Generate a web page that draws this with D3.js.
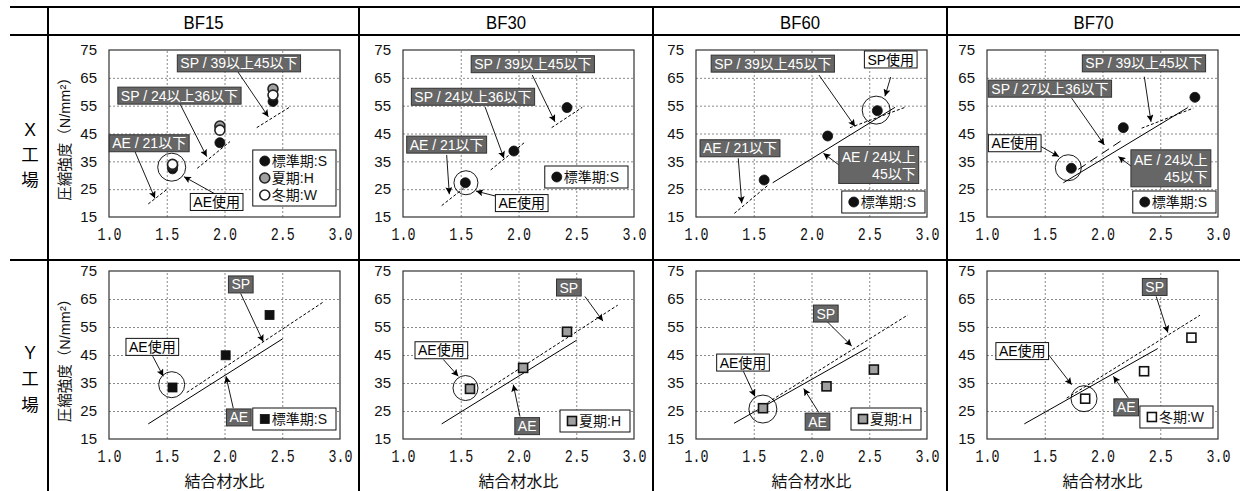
<!DOCTYPE html>
<html><head><meta charset="utf-8">
<script src="https://cdn.jsdelivr.net/npm/d3@7"></script>
<style>body{margin:0;background:#fff}svg{display:block}</style>
</head><body><svg id="c" width="1240" height="491"></svg>
<script>
// ---------- data ----------
const columns = ["BF15", "BF30", "BF60", "BF70"];
const rowLabels = [["X", "工", "場"], ["Y", "工", "場"]];
const xTickValues = [1.0, 1.5, 2.0, 2.5, 3.0];
const xTickLabels = ["1.0", "1.5", "2.0", "2.5", "3.0"];
const yTickValues = [15, 25, 35, 45, 55, 65, 75];
const yTitle = "圧縮強度（N/mm²）";
const xTitle = "結合材水比";
const seriesNames = { S: "標準期:S", H: "夏期:H", W: "冬期:W" };

// X工場 : [結合材水比, 圧縮強度]
const xBF15_S = [[1.55, 32.3], [1.96, 41.7], [2.42, 56.5]];
const xBF15_H = [[1.55, 33.4], [1.96, 47.7], [2.42, 61.0]];
const xBF15_W = [[1.55, 33.9], [1.96, 46.2], [2.42, 58.8]];
const xBF30_S = [[1.54, 27.3], [1.96, 38.7], [2.42, 54.3]];
const xBF60_S = [[1.59, 28.3], [2.14, 44.1], [2.57, 53.2]];
const xBF70_S = [[1.73, 32.5], [2.18, 47.1], [2.80, 58.0]];
// Y工場
const yBF15_S = [[1.55, 33.4], [2.01, 44.9], [2.39, 59.3]];
const yBF30_H = [[1.58, 32.9], [2.04, 40.4], [2.42, 53.3]];
const yBF60_H = [[1.58, 26.0], [2.13, 33.8], [2.54, 39.8]];
const yBF70_W = [[1.85, 29.4], [2.36, 39.2], [2.77, 51.2]];

// reference relations [x1, y1, x2, y2]
const xBF15_dashed = [[1.34, 19.7, 1.514, 25.3], [1.764, 32.5, 2.048, 42.1], [2.279, 47.1, 2.561, 54.4]];
const xBF30_dashed = [[1.335, 19.1, 1.524, 25.3], [1.759, 31.9, 2.062, 42.1], [2.287, 47.1, 2.552, 54.4]];
const xBF60_dashed = [[1.332, 16.3, 1.626, 26.5], [2.333, 47.1, 2.810, 54.4]];
const xBF60_solid = [[1.664, 27.3, 2.723, 54.4]];
const xBF70_dashed = [[2.339, 46.9, 2.786, 54.1]];
const xBF70_long = [[1.790, 32.1, 2.180, 42.9]];
const xBF70_solid = [[1.661, 27.3, 2.738, 54.3]];
const yBF15_solid = [[1.340, 20.4, 2.504, 50.8]];
const yBF15_dashed = [[1.673, 31.6, 2.862, 64.1]];
const yBF30_solid = [[1.335, 20.4, 2.504, 50.3]];
const yBF30_dashed = [[1.681, 31.4, 2.859, 62.8]];
const yBF60_solid = [[1.329, 20.6, 2.486, 47.6]];
const yBF60_dashed = [[1.62, 28.0, 2.834, 59.3]];
const yBF70_solid = [[1.323, 20.4, 2.478, 47.3]];
const yBF70_dashed = [[1.690, 29.6, 2.844, 59.2]];

// annotation texts
const tSP39 = ["SP / 39以上45以下"], tSP24 = ["SP / 24以上36以下"], tSP27 = ["SP / 27以上36以下"];
const tAE21 = ["AE / 21以下"], tAE24 = ["AE / 24以上", "45以下"];
const tAEuse = ["AE使用"], tSPuse = ["SP使用"], tSP = ["SP"], tAE = ["AE"];

// ---------- layout ----------
const colEdges = [48, 359, 653, 947, 1240];
const plotLefts = [109, 403, 696, 987];
const plotW = 231;
const rowPlot = [{ top: 50, bottom: 217 }, { top: 271, bottom: 439 }];

const panels = [
  { r: 0, c: 0, shape: "circle", series: [["S", xBF15_S], ["H", xBF15_H], ["W", xBF15_W]],
    solid: [], dashed: xBF15_dashed, long: [], ring: [1.543, 32.9, 14], legend: [4, 11],
    notes: [
      { t: tSP39, at: [2.125, 70.2], dark: 1, ar: [2.117, 67.1, 2.38, 51.0] },
      { t: tSP24, at: [1.610, 58.6], dark: 1, ar: [1.615, 55.6, 1.846, 36.7] },
      { t: tAE21, at: [1.348, 41.5], dark: 1, ar: [1.225, 38.5, 1.398, 21.7] },
      { t: tAEuse, at: [1.932, 20.4], dark: 0, ar: [1.918, 23.3, 1.649, 29.5] }] },
  { r: 0, c: 1, shape: "circle", series: [["S", xBF30_S]],
    solid: [], dashed: xBF30_dashed, long: [], ring: [1.545, 27.3, 12], legend: [6, 29],
    notes: [
      { t: tSP39, at: [2.124, 69.9], dark: 1, ar: [2.119, 66.0, 2.316, 49.2] },
      { t: tSP24, at: [1.606, 58.2], dark: 1, ar: [1.710, 54.6, 1.874, 36.1] },
      { t: tAE21, at: [1.378, 41.0], dark: 1, ar: [1.378, 37.3, 1.401, 23.2] },
      { t: tAEuse, at: [2.028, 20.0], dark: 0, ar: [1.822, 22.3, 1.632, 24.3] }] },
  { r: 0, c: 2, shape: "circle", series: [["S", xBF60_S]],
    solid: xBF60_solid, dashed: xBF60_dashed, long: [], ring: [2.560, 53.4, 14], legend: [2, 4],
    notes: [
      { t: tSP39, at: [1.665, 70.1], dark: 1, ar: [2.065, 66.0, 2.377, 47.5] },
      { t: tSPuse, at: [2.686, 71.6], dark: 0, ar: [2.686, 65.3, 2.636, 58.4] },
      { t: tAE21, at: [1.381, 39.7], dark: 1, ar: [1.366, 36.1, 1.396, 19.9] },
      { t: tAE24, at: [2.582, 33.7], dark: 1, ar: [2.247, 33.4, 2.103, 37.9] }] },
  { r: 0, c: 3, shape: "circle", series: [["S", xBF70_S]],
    solid: xBF70_solid, dashed: xBF70_dashed, long: xBF70_long, ring: [1.704, 32.7, 13], legend: [2, 4],
    notes: [
      { t: tSP39, at: [2.359, 70.2], dark: 1, ar: [2.362, 65.4, 2.420, 49.2] },
      { t: tSP27, at: [1.545, 61.1], dark: 1, ar: [1.733, 57.7, 2.016, 40.9] },
      { t: tAEuse, at: [1.240, 41.5], dark: 0, ar: [1.468, 40.3, 1.623, 36.7] },
      { t: tAE24, at: [2.592, 32.5], dark: 1, ar: [2.253, 33.1, 2.137, 36.7] }] },
  { r: 1, c: 0, shape: "square", series: [["S", yBF15_S]],
    solid: yBF15_solid, dashed: yBF15_dashed, long: [], ring: [1.543, 34.4, 13], legend: [4, 9],
    notes: [
      { t: tSP, at: [2.141, 70.2], dark: 1, ar: [2.140, 67.0, 2.336, 49.7] },
      { t: tAE, at: [2.124, 22.7], dark: 1, ar: [2.076, 26.0, 2.013, 37.4] },
      { t: tAEuse, at: [1.375, 47.9], dark: 0, ar: [1.378, 44.6, 1.470, 37.4] }] },
  { r: 1, c: 1, shape: "square", series: [["H", yBF30_H]],
    solid: yBF30_solid, dashed: yBF30_dashed, long: [], ring: [1.541, 33.2, 12.5], legend: [4, 7],
    notes: [
      { t: tSP, at: [2.436, 69.1], dark: 1, ar: [2.575, 65.9, 2.731, 57.1] },
      { t: tAE, at: [2.075, 19.6], dark: 1, ar: [2.013, 23.0, 1.955, 34.4] },
      { t: tAEuse, at: [1.332, 46.7], dark: 0, ar: [1.349, 43.4, 1.479, 37.4] }] },
  { r: 1, c: 2, shape: "square", series: [["H", yBF60_H]],
    solid: yBF60_solid, dashed: yBF60_dashed, long: [], ring: [1.579, 25.7, 14], legend: [6, 9],
    notes: [
      { t: tSP, at: [2.124, 59.8], dark: 1, ar: [2.131, 57.1, 2.348, 48.2] },
      { t: tAE, at: [2.052, 21.2], dark: 1, ar: [2.063, 24.5, 1.933, 33.0] },
      { t: tAEuse, at: [1.407, 42.3], dark: 0, ar: [1.410, 39.2, 1.511, 30.2] }] },
  { r: 1, c: 3, shape: "square", series: [["W", yBF70_W]],
    solid: yBF70_solid, dashed: yBF70_dashed, long: [], ring: [1.840, 29.4, 13], legend: [5, 11],
    notes: [
      { t: tSP, at: [2.452, 69.3], dark: 1, ar: [2.465, 65.9, 2.566, 53.0] },
      { t: tAE, at: [2.205, 26.3], dark: 1, ar: [2.224, 29.6, 2.094, 37.4] },
      { t: tAEuse, at: [1.305, 46.4], dark: 0, ar: [1.531, 45.2, 1.733, 34.4] }] }
];

const fillOf = { S: "#111", H: "#a0a0a0", W: "#fff" };
const SANS = "'Liberation Sans', Arial, 'Noto Sans CJK JP', sans-serif";
const CJK = "'Liberation Sans', Arial, 'Noto Sans CJK JP', sans-serif";

const svg = d3.select("#c");
svg.append("rect").attr("width", 1240).attr("height", 491).attr("fill", "#fff");
const defs = svg.append("defs");
defs.append("marker").attr("id", "ah").attr("viewBox", "0 0 10 10")
  .attr("refX", 10).attr("refY", 5).attr("markerWidth", 10).attr("markerHeight", 7)
  .attr("markerUnits", "userSpaceOnUse").attr("orient", "auto")
  .append("path").attr("d", "M0,0L10,5L0,10L2,5z").attr("fill", "#000");

// ---------- table frame ----------
const frame = svg.append("g").attr("stroke", "#000").attr("stroke-width", 2);
[7, 35, 260].forEach(yy => frame.append("line").attr("x1", 10).attr("x2", 1240).attr("y1", yy).attr("y2", yy));
colEdges.slice(0, 4).forEach(xx => frame.append("line").attr("x1", xx).attr("x2", xx).attr("y1", 7).attr("y2", 491));

columns.forEach((name, i) => {
  svg.append("text").attr("x", (colEdges[i] + colEdges[i + 1]) / 2).attr("y", 28.5)
    .attr("text-anchor", "middle").attr("font-family", SANS).attr("font-size", 18)
    .attr("textLength", 40).attr("lengthAdjust", "spacingAndGlyphs")
    .attr("fill", "#000").text(name);
});
const rowLabelY = [[130, 155, 180], [353, 379, 405]];
rowLabels.forEach((chars, r) => {
  chars.forEach((ch, k) => {
    svg.append("text").attr("x", 30).attr("y", rowLabelY[r][k]).attr("dy", "0.36em")
      .attr("text-anchor", "middle").attr("font-family", CJK).attr("font-size", 17.5)
      .attr("fill", "#000").text(ch);
  });
});

// ---------- panels ----------
panels.forEach(p => {
  const L = plotLefts[p.c], rp = rowPlot[p.r];
  const x = d3.scaleLinear().domain([1, 3]).range([L, L + plotW]);
  const y = d3.scaleLinear().domain([15, 75]).range([rp.bottom, rp.top]);
  const g = svg.append("g");
  const H = rp.bottom - rp.top;

  // grid
  g.append("g").attr("transform", `translate(0,${rp.bottom})`)
    .call(d3.axisBottom(x).tickValues([1.5, 2.0, 2.5]).tickSize(-H).tickFormat(""))
    .call(a => a.select(".domain").remove())
    .call(a => a.selectAll("line").attr("stroke", "#8a8a8a").attr("stroke-dasharray", "2,2"));
  g.append("g").attr("transform", `translate(${L},0)`)
    .call(d3.axisLeft(y).tickValues([25, 35, 45, 55, 65]).tickSize(-plotW).tickFormat(""))
    .call(a => a.select(".domain").remove())
    .call(a => a.selectAll("line").attr("stroke", "#8a8a8a").attr("stroke-dasharray", "2,2"));
  g.append("rect").attr("x", L).attr("y", rp.top).attr("width", plotW).attr("height", H)
    .attr("fill", "none").attr("stroke", "#333").attr("stroke-width", 1.2);

  // axes labels
  g.append("g").attr("transform", `translate(${L},0)`)
    .call(d3.axisLeft(y).tickValues(yTickValues).tickSize(0).tickPadding(12).tickFormat(d3.format("d")))
    .call(a => a.select(".domain").remove())
    .call(a => a.selectAll("text").attr("font-family", SANS).attr("font-size", 15).attr("fill", "#111"));
  g.append("g").attr("transform", `translate(0,${rp.bottom})`)
    .call(d3.axisBottom(x).tickValues(xTickValues).tickSize(0).tickPadding(10)
      .tickFormat((d, i) => xTickLabels[i]))
    .call(a => a.select(".domain").remove())
    .call(a => a.selectAll("text").attr("font-family", "'Liberation Mono', 'DejaVu Sans Mono', monospace")
      .attr("font-size", 19).attr("fill", "#111").attr("textLength", 24).attr("lengthAdjust", "spacingAndGlyphs"));

  if (p.c === 0) {
    const cy = (rp.top + rp.bottom) / 2 + 2;
    g.append("text").attr("transform", `translate(65,${cy}) rotate(-90)`).attr("dy", "0.36em")
      .attr("text-anchor", "middle").attr("font-family", CJK).attr("font-size", 14.5)
      .attr("fill", "#111").text(yTitle);
  }
  if (p.r === 1) {
    g.append("text").attr("x", L + plotW / 2).attr("y", 487).attr("text-anchor", "middle")
      .attr("font-family", CJK).attr("font-size", 16).attr("fill", "#111").text(xTitle);
  }

  // reference lines
  const seg = (arr, dash) => arr.forEach(s => g.append("line")
    .attr("x1", x(s[0])).attr("y1", y(s[1])).attr("x2", x(s[2])).attr("y2", y(s[3]))
    .attr("stroke", "#000").attr("stroke-width", 1).attr("stroke-dasharray", dash));
  seg(p.solid, null);
  seg(p.dashed, "3,2");
  seg(p.long, "9,5");

  // ring
  g.append("circle").attr("cx", x(p.ring[0])).attr("cy", y(p.ring[1])).attr("r", p.ring[2])
    .attr("fill", "none").attr("stroke", "#000").attr("stroke-width", 0.9);

  // points
  const drawMark = (sel, cx, cy, key) => {
    if (p.shape === "circle") {
      sel.append("circle").attr("cx", cx).attr("cy", cy).attr("r", 5)
        .attr("fill", fillOf[key]).attr("stroke", key === "S" ? "#111" : "#222").attr("stroke-width", key === "S" ? 0.8 : 1.6);
    } else {
      sel.append("rect").attr("x", cx - 4.5).attr("y", cy - 4.5).attr("width", 9).attr("height", 9)
        .attr("fill", fillOf[key]).attr("stroke", "#111").attr("stroke-width", key === "S" ? 0.8 : 1.6);
    }
  };
  p.series.forEach(([key, pts]) => pts.forEach(d => drawMark(g, x(d[0]), y(d[1]), key)));

  // annotations
  p.notes.forEach(n => {
    g.append("line").attr("x1", x(n.ar[0])).attr("y1", y(n.ar[1])).attr("x2", x(n.ar[2])).attr("y2", y(n.ar[3]))
      .attr("stroke", "#000").attr("stroke-width", 0.9).attr("marker-end", "url(#ah)");
  });
  p.notes.forEach(n => {
    const ng = g.append("g");
    const rect = ng.append("rect");
    const lh = 17;
    const texts = n.t.map((s, i) => ng.append("text").attr("font-family", CJK).attr("font-size", 14)
      .attr("fill", n.dark ? "#fff" : "#000").text(s));
    const w = d3.max(texts, t => t.node().getComputedTextLength()) + 6;
    const h = lh * n.t.length + (n.t.length > 1 ? 3 : 0);
    const cx = x(n.at[0]), cy = y(n.at[1]);
    rect.attr("x", cx - w / 2).attr("y", cy - h / 2).attr("width", w).attr("height", h)
      .attr("fill", n.dark ? "#666" : "#fff").attr("stroke", n.dark ? "#333" : "#111").attr("stroke-width", 1);
    texts.forEach((t, i) => {
      const ty = cy - h / 2 + (n.t.length > 1 ? 2 : 0) + lh * i + lh / 2;
      if (n.t.length > 1 && i > 0) t.attr("x", cx + w / 2 - 3).attr("text-anchor", "end");
      else if (n.t.length > 1) t.attr("x", cx - w / 2 + 3);
      else t.attr("x", cx).attr("text-anchor", "middle");
      t.attr("y", ty).attr("dy", "0.36em");
    });
  });

  // legend
  const lg = g.append("g");
  const lrect = lg.append("rect");
  const entries = p.series.map(s => s[0]);
  const rowH = 17;
  const labels = entries.map((k, i) => lg.append("text").attr("font-family", CJK).attr("font-size", 14)
    .attr("fill", "#111").text(seriesNames[k]));
  const tw = d3.max(labels, t => t.node().getComputedTextLength());
  const lw = tw + 28, lh2 = rowH * entries.length + 5;
  const rx = L + plotW - p.legend[0] - lw, ry = rp.bottom - p.legend[1] - lh2;
  lrect.attr("x", rx).attr("y", ry).attr("width", lw).attr("height", lh2)
    .attr("fill", "#fff").attr("stroke", "#111").attr("stroke-width", 1);
  entries.forEach((k, i) => {
    const yy = ry + 2.5 + rowH * i + rowH / 2;
    drawMark(lg, rx + 12, yy, k);
    labels[i].attr("x", rx + 19).attr("y", yy).attr("dy", "0.36em");
  });
});
</script></body></html>
